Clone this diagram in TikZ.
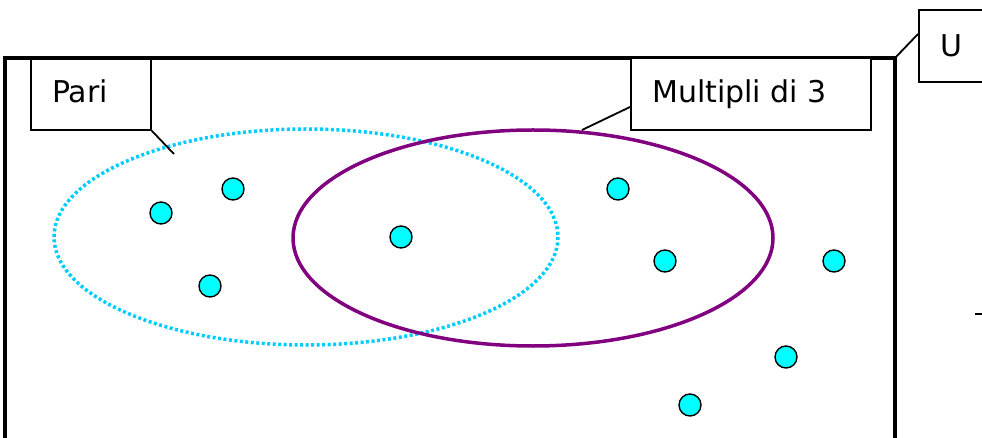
\documentclass[tikz,border=0pt]{standalone}
\usepackage{fontspec}
\setmainfont{DejaVu Sans}
\definecolor{dotcyan}{RGB}{0,255,255}
\definecolor{paricyan}{RGB}{0,204,255}
\definecolor{mulpurple}{RGB}{128,0,128}
\begin{document}
\begin{tikzpicture}[x=1pt,y=-1pt,
  labelbox/.style={draw=black,line width=1.8pt,fill=white,inner sep=0pt,anchor=north west},
  labeltext/.style={anchor=base west,inner sep=0pt,font=\fontsize{30}{34}\selectfont},
  elem/.style={circle,draw=black,line width=1.4pt,fill=dotcyan,minimum size=22pt,inner sep=0pt},
  leader/.style={line width=1.8pt}]
\useasboundingbox (0,0) rectangle (982,438);
\clip (0,0) rectangle (982,438);
% universe frame
\draw[line width=4.5pt] (5,460) -- (5,58) -- (895,58) -- (895,460);
% sets
\draw[paricyan,line width=3.5pt,dash pattern=on 3pt off 2.5pt] (306,237) ellipse [x radius=252,y radius=108];
\draw[mulpurple,line width=3.5pt] (533,238) ellipse [x radius=240,y radius=108];
% label boxes
\node[labelbox,minimum width=120pt,minimum height=71pt] (pari) at (30,58) {};
\node[labeltext] (paritxt) at (52,103) {Pari};
\node[labelbox,minimum width=240pt,minimum height=72pt] (mul) at (630,57) {};
\node[labeltext] (multxt) at (652,103) {Multipli di 3};
\node[labelbox,minimum width=80pt,minimum height=72pt] (u) at (918,9) {};
\node[labeltext] (utxt) at (940,57) {U};
% leaders
\coordinate (pe) at (174,154);
\coordinate (me) at (582,130);
\coordinate (ue) at (895,58);
\draw[leader] (pari.south east) -- (pe);
\draw[leader] (630,107) -- (me);
\draw[leader] (918,34) -- (ue);
% elements
\node[elem] (e1) at (233,189) {};
\node[elem] (e2) at (161,213) {};
\node[elem] (e3) at (210,286) {};
\node[elem] (e4) at (401,237) {};
\node[elem] (e5) at (618,189) {};
\node[elem] (e6) at (665,261) {};
\node[elem] (e7) at (834,261) {};
\node[elem] (e8) at (786,357) {};
\node[elem] (e9) at (690,405) {};
% small dash at right
\coordinate (d1) at (975,314);
\coordinate (d2) at (982,314);
\draw[line width=2pt] (d1) -- (d2);
\end{tikzpicture}
\end{document}
